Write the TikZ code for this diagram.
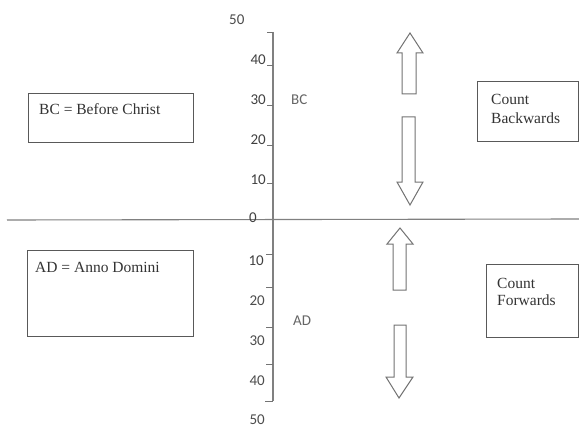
\documentclass[tikz,border=0pt]{standalone}
\usepackage{fontspec}
\setmainfont{Liberation Serif}
\newfontfamily\axisfont{Carlito}
\begin{document}
\begin{tikzpicture}[x=1pt,y=-1pt,
  axisline/.style={draw=black!50, line width=1.1pt},
  tickline/.style={draw=black!55, line width=0.9pt},
  num/.style={font=\axisfont\fontsize{15}{15}\selectfont, text=black!70, inner sep=0pt},
  numbold/.style={num, text=black!75},
  era/.style={font=\axisfont\fontsize{15}{15}\selectfont, text=black!60, inner sep=0pt},
  boxshape/.style={draw=black!65, line width=1.1pt, anchor=north west, inner sep=0pt},
  boxtext/.style={font=\fontsize{15.5}{15.5}\selectfont, text=black!80, inner sep=0pt, anchor=base west},
  bigarrow/.style={draw=black!55, line width=1pt, fill=white, line join=miter}]
\useasboundingbox (0,0) rectangle (579,428);
\fill[white] (0,0) rectangle (579,428);

% horizontal zero line
\coordinate (hl) at (7,220);
\coordinate (hr) at (579,219);
\draw[axisline] (hl) -- (hr);

% vertical axis
\coordinate (vt) at (273,32);
\coordinate (vb) at (273,401);
\draw[axisline] (vt) -- (vb);
\coordinate (tt) at (267,32);
\draw[tickline] (tt) -- (vt);
\coordinate (tb) at (265,401);
\draw[tickline] (tb) -- (vb);

% upper ticks
\foreach \y/\n in {65/a,105/b,145/c,183/d}{
  \coordinate (u\n l) at (267,\y);
  \coordinate (u\n r) at (273,\y);
  \draw[tickline] (u\n l) -- (u\n r);
}
% lower ticks
\foreach \y/\n in {254/a,287/b,327/c,364/d}{
  \coordinate (l\n l) at (266,\y);
  \coordinate (l\n r) at (273,\y);
  \draw[tickline] (l\n l) -- (l\n r);
}

% numbers
\node[num, anchor=base west] (n50t) at (229,25) {50};
\node[numbold, anchor=base east] (n40) at (266,65) {40};
\node[numbold, anchor=base east] (n30) at (266,105) {30};
\node[numbold, anchor=base east] (n20) at (266,145) {20};
\node[numbold, anchor=base east] (n10) at (266,184) {10};
\node[numbold, anchor=east] (n0) at (257,218) {0};
\node[numbold, anchor=base east] (m10) at (264,265) {10};
\node[num, anchor=base east] (m20) at (265,305) {20};
\node[num, anchor=base east] (m30) at (265,345) {30};
\node[num, anchor=base east] (m40) at (265,385) {40};
\node[num, anchor=base east] (m50) at (265,424) {50};

\node[era, anchor=base west] (bc) at (291,105) {BC};
\node[era, anchor=base west] (ad) at (293,325) {AD};

% arrows
\draw[bigarrow] (410,33) -- (423,53) -- (416,53) -- (416,94) -- (402,94) -- (402,53) -- (397,53) -- cycle;
\draw[bigarrow] (410,205) -- (423,182) -- (415,182) -- (415,117) -- (402,117) -- (402,182) -- (397,182) -- cycle;
\draw[bigarrow] (400,228) -- (413,244) -- (406,244) -- (406,290) -- (393,290) -- (393,244) -- (387,244) -- cycle;
\draw[bigarrow] (399,398) -- (413,377) -- (406,377) -- (406,325) -- (394,325) -- (394,377) -- (386,377) -- cycle;

% boxes
\node[boxshape, minimum width=165pt, minimum height=49pt] (bcbox) at (28,93) {};
\node[boxtext] (bctext) at (39,114) {BC = Before Christ};
\node[boxshape, minimum width=166pt, minimum height=86pt] (adbox) at (27,250) {};
\node[boxtext] (adtext) at (35,272) {AD = Anno Domini};
\node[boxshape, minimum width=101pt, minimum height=60pt] (cbbox) at (477,81) {};
\node[boxtext] (cbt1) at (491,105) {Count};
\node[boxtext] (cbt2) at (491,124) {Backwards};
\node[boxshape, minimum width=92pt, minimum height=73pt] (cfbox) at (486,264) {};
\node[boxtext] (cft1) at (497,288) {Count};
\node[boxtext] (cft2) at (497,305) {Forwards};
\end{tikzpicture}
\end{document}
